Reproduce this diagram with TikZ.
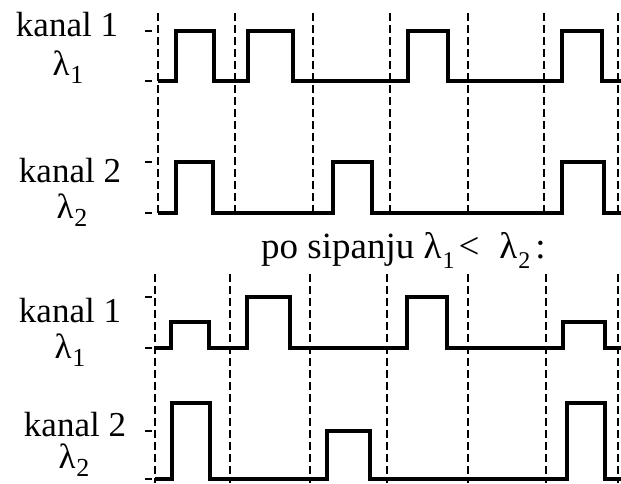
\documentclass[tikz,border=0pt]{standalone}
\usepackage{fontspec}
\setmainfont{Liberation Serif}
\newcommand\lamsub[1]{λ\kern1pt\raisebox{-8pt}{\fontsize{26}{26}\selectfont #1}}
\newcommand\lamsubs[1]{λ\kern1pt\raisebox{-10pt}{\fontsize{24}{24}\selectfont #1}}
\begin{document}
\begin{tikzpicture}[x=1pt,y=-1pt,
  wave/.style={line width=3.3pt,line join=miter},
  cellline/.style={line width=2.4pt,dash pattern=on 8pt off 4pt},
  tickmark/.style={line width=1.6pt},
  lbl/.style={inner sep=0pt,text depth=0pt,font=\fontsize{35}{35}\selectfont},
  sublbl/.style={inner sep=0pt,font=\fontsize{35}{35}\selectfont},
  polbl/.style={inner sep=0pt,font=\fontsize{37}{37}\selectfont}]
\useasboundingbox (0,0) rectangle (621,483);
% ---- top section: cell boundaries
\foreach \x in {158,235,313,390,468,544,618}
  \draw[cellline] (\x,13) -- (\x,215);
% ---- bottom section: cell boundaries
\foreach \x in {155,230,310,387,468,546,618}
  \draw[cellline] (\x,274) -- (\x,483);
% ---- ticks
\foreach \y in {31,81,162,213,297,348,431,479}
  \draw[tickmark] (145,\y) -- (152,\y);
% ---- top channel 1
\draw[wave] (158,81) -- (176,81) -- (176,31) -- (214,31) -- (214,81)
  -- (248,81) -- (248,31) -- (293,31) -- (293,81)
  -- (408,81) -- (408,31) -- (448,31) -- (448,81)
  -- (562,81) -- (562,31) -- (602,31) -- (602,81) -- (621,81);
% ---- top channel 2
\draw[wave] (158,213) -- (176,213) -- (176,162) -- (213,162) -- (213,213)
  -- (333,213) -- (333,162) -- (372,162) -- (372,213)
  -- (562,213) -- (562,162) -- (604,162) -- (604,213) -- (621,213);
% ---- bottom channel 1
\draw[wave] (155,348) -- (171,348) -- (171,322) -- (209,322) -- (209,348)
  -- (247,348) -- (247,297) -- (290,297) -- (290,348)
  -- (407,348) -- (407,297) -- (447,297) -- (447,348)
  -- (563,348) -- (563,322) -- (605,322) -- (605,348) -- (621,348);
% ---- bottom channel 2
\draw[wave] (155,479) -- (172,479) -- (172,403) -- (210,403) -- (210,479)
  -- (327,479) -- (327,431) -- (370,431) -- (370,479)
  -- (567,479) -- (567,403) -- (605,403) -- (605,479) -- (621,479);
% ---- labels
\node[lbl,anchor=base] (k1t) at (67,36) {kanal 1};
\node[sublbl,anchor=base] (l1t) at (68,75) {\lamsub{1}};
\node[lbl,anchor=base] (k2t) at (70,182) {kanal 2};
\node[sublbl,anchor=base] (l2t) at (72,218) {\lamsub{2}};
\node[polbl,anchor=base west] (po) at (261,258) {po sipanju \lamsubs{1}\kern4pt<\kern20pt\lamsubs{2}\kern5pt:};
\node[lbl,anchor=base] (k1b) at (70,322) {kanal 1};
\node[sublbl,anchor=base] (l1b) at (70,358) {\lamsub{1}};
\node[lbl,anchor=base] (k2b) at (75,436) {kanal 2};
\node[sublbl,anchor=base] (l2b) at (74,468) {\lamsub{2}};
\end{tikzpicture}
\end{document}
